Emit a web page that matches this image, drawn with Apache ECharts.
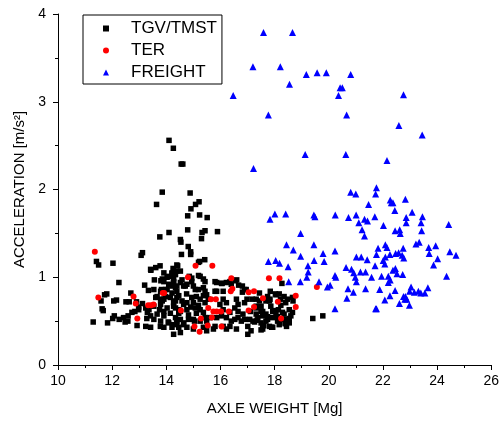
<!DOCTYPE html>
<html>
<head>
<meta charset="utf-8">
<script src="https://cdn.jsdelivr.net/npm/echarts@6/dist/echarts.min.js"></script>
<style>
html,body{margin:0;padding:0;background:#fff;}
#c{width:502px;height:421px;}
</style>
</head>
<body>
<div id="c"></div>
<script>
var seriesNames = ['TGV/TMST', 'TER', 'FREIGHT'];
var xTicks = [10, 12, 14, 16, 18, 20, 22, 24, 26];
var yTicks = [0, 1, 2, 3, 4];

var tgvData = [
[14.10,2.56],[14.26,2.47],[14.55,2.29],[14.61,2.29],[13.85,1.97],[14.88,1.96],[13.64,1.83],[15.21,1.86],[15.08,1.83],[14.91,1.78],
[14.79,1.70],[15.23,1.71],[15.51,1.68],[14.10,1.51],[14.79,1.54],[15.43,1.53],[15.32,1.51],[15.89,1.52],[13.76,1.46],[14.52,1.43],
[14.54,1.40],[15.30,1.44],[14.81,1.35],[13.12,1.28],[13.07,1.25],[14.90,1.29],[14.90,1.26],[14.56,1.26],[15.42,1.20],[15.23,1.18],
[15.19,1.17],[13.77,1.13],[14.39,1.14],[13.42,1.09],
[11.42,1.18],[11.50,1.14],[12.03,1.16],[13.43,1.08],[12.25,0.94],[13.20,0.91],[13.56,0.97],[13.80,0.96],[14.03,1.00],[14.21,1.04],
[14.27,1.07],[13.34,0.85],[11.72,0.80],[11.80,0.81],[11.59,0.73],[12.06,0.73],[12.16,0.74],[12.51,0.72],[12.63,0.72],[12.69,0.82],
[11.63,0.64],[11.67,0.62],[12.73,0.60],[12.98,0.66],[12.98,0.63],[13.12,0.70],[12.08,0.56],[12.02,0.53],[12.26,0.52],[12.48,0.49],
[12.58,0.50],[11.30,0.49],[11.83,0.48],[12.92,0.45],[13.24,0.44],[13.42,0.43],[13.78,0.44],[13.28,0.53],[13.54,0.52],[13.75,0.63],
[13.91,0.61],[13.61,0.77],[13.79,0.75],[13.97,0.78],[14.21,0.90],[14.27,0.94],[14.07,0.49],[14.27,0.46],[12.84,0.61],[12.42,0.54],
[12.59,0.56],[12.90,0.72],[13.24,0.65],[13.36,0.63],[13.61,1.11],[13.85,0.98],[13.82,0.86],[13.85,0.73],[14.21,0.43],[14.09,1.01],
[13.91,1.05],[14.34,1.03],[14.25,1.10],[14.42,1.13],[13.91,0.95],[14.09,0.92],[14.27,0.95],[14.39,0.90],[13.54,0.86],[13.79,0.84],
[14.03,0.86],[14.21,0.82],[14.39,0.84],[13.66,0.78],[13.91,0.75],[14.15,0.77],[14.34,0.73],[13.54,0.67],[13.79,0.69],[14.03,0.65],
[14.27,0.67],[14.46,0.63],[13.66,0.58],[13.91,0.56],[14.15,0.59],[14.34,0.54],[13.79,0.50],[14.09,0.48],[14.39,0.50],[13.42,0.56],
[13.30,0.60],[13.91,0.43],
[14.39,1.07],[14.85,1.01],[14.94,0.95],[15.19,1.02],[15.37,0.98],[14.52,0.94],[14.64,0.90],[14.76,0.92],[15.00,0.90],[15.19,0.86],
[15.37,0.88],[15.80,0.95],[15.86,0.94],[16.04,0.93],[16.22,0.94],[16.35,0.95],[15.86,0.84],[16.10,0.84],[16.67,0.91],[16.81,0.90],
[16.89,0.86],[16.81,0.83],[17.44,0.82],[17.84,0.84],[18.05,0.80],[18.35,0.78],[18.47,0.75],[18.41,0.71],[18.68,0.73],[17.81,0.73],
[17.86,0.67],[17.44,0.73],[17.32,0.67],[17.50,0.67],[16.98,0.75],[16.89,0.71],[16.59,0.75],[16.65,0.69],[16.53,0.65],[16.10,0.75],
[16.22,0.71],[15.98,0.69],[15.49,0.80],[15.55,0.75],[15.43,0.71],[15.25,0.75],[14.94,0.77],[15.00,0.71],[14.76,0.71],[14.58,0.73],
[14.39,0.77],[14.27,0.71],[14.34,0.65],[14.52,0.61],[14.76,0.63],[15.07,0.65],[15.25,0.63],[15.37,0.60],[16.10,0.63],[16.35,0.60],
[16.65,0.61],[16.83,0.58],[17.56,0.61],[17.68,0.58],[17.93,0.61],[18.05,0.60],[18.29,0.60],[18.54,0.63],[18.66,0.60],[17.74,0.52],
[17.93,0.54],[18.11,0.50],[18.41,0.52],[18.54,0.48],[18.60,0.56],[17.50,0.48],[17.56,0.44],[17.81,0.44],[17.93,0.43],[17.08,0.52],
[17.20,0.50],[17.38,0.54],[16.65,0.54],[16.77,0.50],[16.89,0.52],[16.22,0.54],[16.40,0.50],[16.53,0.52],[15.86,0.54],[16.04,0.56],
[15.61,0.54],[15.49,0.50],[15.25,0.50],[15.00,0.52],[14.82,0.52],[14.52,0.52],[14.64,0.48],[14.39,0.48],[14.46,0.43],[14.76,0.43],
[15.00,0.41],[15.37,0.43],[15.80,0.44],[16.35,0.44],[16.59,0.41],[17.01,0.44],[17.13,0.39],[17.01,0.35],[17.56,0.41],[14.27,0.35],
[14.52,0.37],[16.10,0.44],[16.22,0.41],[15.49,0.39],[15.74,0.41],
[18.22,0.75],[18.66,0.77],[17.83,0.75],[17.99,0.62],[18.14,0.63],[18.11,0.55],[18.23,0.68],[18.35,0.58],[18.54,0.53],[18.19,0.48],
[18.29,0.52],[18.39,0.47],[18.44,0.44],[18.17,0.46],[17.89,0.43],[17.68,0.50],[17.60,0.45],[17.74,0.55],[17.56,0.56],[17.50,0.40],
[17.26,0.49],[17.35,0.51],[19.41,0.53],[19.78,0.56],[17.11,0.61],[17.32,0.65],[17.50,0.61],[17.32,0.58],[17.17,0.75],[17.32,0.75],
[17.68,0.73],[17.74,0.78],[18.17,0.81],[16.40,0.92],[16.55,0.96],[16.60,0.97],[18.27,0.93],[18.03,0.81],
[14.21,1.05],[14.52,1.07],[14.27,0.99],[14.58,0.97],[14.94,0.99],[15.25,1.01],[15.43,0.95],[16.06,0.93],[16.95,0.86],[13.97,0.86],
[14.34,0.88],[14.70,0.90],[15.07,0.86],[15.43,0.84],[15.80,0.84],[14.46,0.79],[14.75,0.81],[15.11,0.78],[15.37,0.79],[14.64,0.69],
[14.90,0.66],[15.19,0.68],[14.46,0.59],[14.82,0.57],[15.11,0.59],[15.43,0.54],[14.64,0.46],[15.04,0.50]
];

var terData = [
[11.36,1.29],[11.49,0.77],[12.79,0.78],[12.87,0.70],[12.93,0.53],[13.33,0.68],[13.43,0.68],[13.53,0.69],[13.87,0.82],[13.92,0.82],
[14.54,0.62],[14.80,1.00],[15.08,1.13],[15.70,1.13],[15.04,0.44],[15.23,0.38],[15.28,0.53],[15.65,0.75],[15.83,0.75],[15.55,0.65],
[15.74,0.61],[15.86,0.61],[15.68,0.54],[15.53,0.45],[16.02,0.61],[16.04,0.44],[16.31,0.61],[16.40,0.99],[16.44,0.87],[16.38,0.84],
[17.04,0.83],[17.24,0.84],[17.04,0.62],[17.24,0.66],[17.79,0.99],[18.18,0.99],[19.56,0.89],[17.57,0.76],[18.12,0.72],[18.78,0.79],
[18.78,0.66],[18.24,0.53]
];

var freightData = [
[16.47,3.07],[17.59,3.79],[18.66,3.79],[17.20,3.40],[18.21,3.40],[19.17,3.31],[19.57,3.33],[19.91,3.33],[20.81,3.31],[18.55,3.20],
[20.42,3.16],[20.50,3.16],[20.36,3.07],[22.76,3.08],[17.77,2.85],[20.66,2.85],[22.59,2.73],[23.45,2.62],[19.13,2.40],[20.63,2.40],
[22.15,2.33],[17.22,2.24],[21.76,2.02],[20.81,1.97],[21.00,1.95],[21.73,1.95],[22.27,1.88],[22.83,1.89],[22.31,1.85],[22.37,1.85],
[21.47,1.83],[22.44,1.76],[23.08,1.74],[17.83,1.66],[18.01,1.72],[18.41,1.72],[19.45,1.71],[19.49,1.69],[20.24,1.71],[20.73,1.68],
[21.01,1.71],[21.11,1.62],[21.32,1.66],[21.70,1.69],[21.43,1.64],[22.86,1.68],[23.46,1.69],[22.86,1.62],[23.41,1.62],[22.02,1.59],
[24.43,1.60],[18.96,1.50],[21.23,1.54],[21.32,1.47],[22.45,1.53],[22.62,1.54],[22.64,1.50],[23.43,1.53],[18.44,1.37],[19.45,1.37],
[18.69,1.31],[19.79,1.27],[20.23,1.30],[18.96,1.24],[17.77,1.18],[18.04,1.19],[18.18,1.16],[19.46,1.19],[19.83,1.18],[18.50,1.12],
[19.23,1.13],[21.02,1.23],[21.20,1.23],[21.42,1.20],[21.71,1.13],[20.64,1.11],[20.84,1.09],[19.24,1.06],[20.23,1.02],[20.26,1.00],
[20.92,1.05],[20.98,1.00],[21.17,1.06],[21.36,1.06],[21.58,1.00],[18.52,0.95],[18.95,0.95],[19.19,1.00],[19.64,0.95],[19.95,0.89],
[20.05,0.91],[20.71,0.87],[21.02,0.95],[21.36,0.87],[20.91,0.83],[20.67,0.76],[20.23,0.64],[21.73,0.64],[21.76,0.64],[23.22,1.38],
[23.34,1.40],[22.09,1.37],[22.15,1.34],[21.82,1.33],[22.75,1.33],[23.69,1.34],[23.95,1.36],[24.47,1.29],[24.70,1.25],[21.76,1.26],
[22.26,1.26],[22.47,1.27],[22.58,1.28],[22.71,1.25],[22.77,1.22],[23.71,1.27],[22.09,1.23],[24.02,1.21],[22.07,1.15],[22.46,1.10],
[22.37,1.08],[22.52,1.04],[23.87,1.14],[21.95,1.01],[22.20,1.01],[22.27,0.97],[22.20,0.94],[22.73,1.03],[24.35,1.01],[21.88,0.86],
[22.45,0.85],[22.26,0.79],[23.04,0.89],[22.99,0.84],[23.16,0.83],[23.31,0.84],[23.40,0.82],[23.55,0.82],[23.66,0.88],[22.76,0.78],
[22.83,0.78],[22.88,0.75],[22.81,0.75],[22.07,0.74],[22.61,0.70],[22.98,0.68],[22.01,1.19]
];

var FONT = '"Liberation Sans", Arial, sans-serif';
var chart = echarts.init(document.getElementById('c'), null, {renderer: 'canvas'});
var option = {
  backgroundColor: '#ffffff',
  animation: false,
  grid: {left: 58, top: 14, width: 438, height: 352, containLabel: false},
  legend: {
    orient: 'vertical',
    left: 83, top: 15,
    data: seriesNames,
    itemWidth: 6, itemHeight: 6, itemGap: 5,
    padding: [5, 5, 3, 20],
    borderColor: '#000', borderWidth: 1,
    textStyle: {fontFamily: FONT, fontSize: 17, color: '#000', padding: [0, 0, 0, 17]}
  },
  xAxis: {
    type: 'value', min: xTicks[0], max: xTicks[xTicks.length - 1], interval: xTicks[1] - xTicks[0],
    name: 'AXLE WEIGHT [Mg]', nameLocation: 'middle', nameGap: 36,
    nameTextStyle: {fontFamily: FONT, fontSize: 15, color: '#000'},
    axisLine: {show: true, onZero: false, lineStyle: {color: '#000', width: 1}},
    axisTick: {show: true, inside: false, length: 5, lineStyle: {color: '#000'}},
    minorTick: {show: true, splitNumber: 2, length: 3, lineStyle: {color: '#000'}},
    axisLabel: {fontFamily: FONT, fontSize: 14, color: '#000', margin: 9},
    splitLine: {show: false}
  },
  yAxis: {
    type: 'value', min: yTicks[0], max: yTicks[yTicks.length - 1], interval: yTicks[1] - yTicks[0],
    name: 'ACCELERATION [m/s²]', nameLocation: 'middle', nameGap: 31,
    nameTextStyle: {fontFamily: FONT, fontSize: 15, color: '#000'},
    axisLine: {show: true, onZero: false, lineStyle: {color: '#000', width: 1}},
    axisTick: {show: true, inside: false, length: 5, lineStyle: {color: '#000'}},
    minorTick: {show: true, splitNumber: 2, length: 3, lineStyle: {color: '#000'}},
    axisLabel: {fontFamily: FONT, fontSize: 14, color: '#000', margin: 12},
    splitLine: {show: false}
  },
  series: [
    {name: seriesNames[0], type: 'scatter', symbol: 'rect', symbolSize: 5.5, data: tgvData,
     itemStyle: {color: '#000000', opacity: 1}},
    {name: seriesNames[1], type: 'scatter', symbol: 'circle', symbolSize: 6, data: terData,
     itemStyle: {color: '#ff0000', opacity: 1}},
    {name: seriesNames[2], type: 'scatter', symbol: 'triangle', symbolSize: 7, data: freightData,
     itemStyle: {color: '#0000ff', opacity: 1}}
  ]
};
chart.setOption(option);
</script>
</body>
</html>
